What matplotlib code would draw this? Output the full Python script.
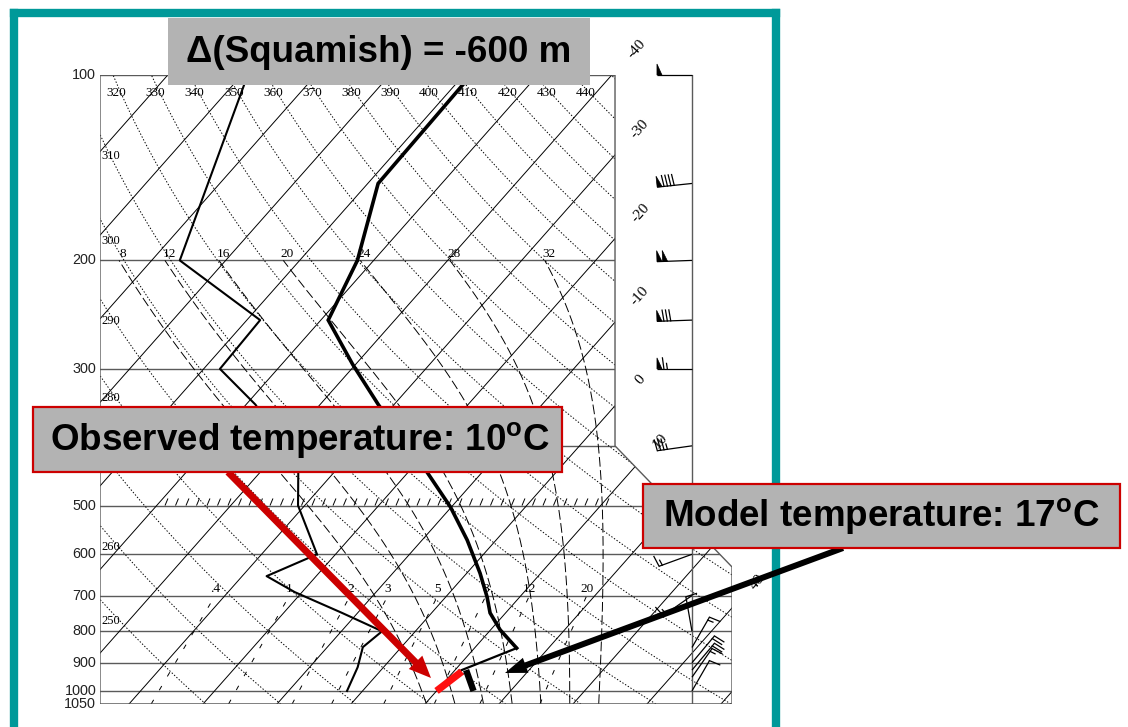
import numpy as np
import matplotlib
matplotlib.use("Agg")
import matplotlib.pyplot as plt
from matplotlib.patches import Polygon, Rectangle, FancyArrow
from matplotlib.path import Path
from matplotlib.collections import LineCollection
from matplotlib.transforms import IdentityTransform

plt.rcParams["lines.scale_dashes"] = False
plt.rcParams["mathtext.fontset"] = "custom"
plt.rcParams["mathtext.rm"] = "Liberation Sans:bold"
plt.rcParams["mathtext.bf"] = "Liberation Sans:bold"

# ---------------- sounding data ----------------
temp_p = [100, 150, 200, 250, 295, 343, 441, 503, 569, 644, 704, 747, 796, 852]
temp_c = [-59.0, -58.6, -52.2, -49.0, -40.4, -32.1, -17.5, -10.1, -3.9, 1.8, 5.6, 7.9, 11.3, 15.7]
low_p = [852, 925]
low_c = [15.7, 10.9]
dwpt_p = [100, 200, 250, 300, 343, 438, 500, 600, 651, 691, 747, 800, 849, 915, 1000]
dwpt_c = [-89.2, -76.2, -58.2, -57.8, -48.7, -35.1, -30.9, -22.5, -26.7, -21.0, -12.1, -4.5, -5.2, -3.5, -2.1]
obs_p = [1000, 930]
obs_c = [10.0, 11.1]
model_p = [925, 1000]
model_c = [11.5, 15.0]

wind_p = [100, 150, 200, 250, 300, 400, 500, 600, 700, 800, 850, 900, 925, 950, 1000]
wind_dir = [270, 264, 268, 268, 270, 262, 255, 250, 235, 350, 30, 40, 40, 35, 30]
wind_kt = [50, 90, 100, 80, 65, 35, 30, 15, 15, 10, 15, 20, 20, 15, 10]

# ---------------- diagram furniture ----------------
p_levels = [100, 200, 300, 400, 500, 600, 700, 800, 900, 1000, 1050]
p_labelled = [100, 200, 300, 500, 600, 700, 800, 900, 1000, 1050]
iso_temps = list(range(-110, 60, 10))
iso_labelled = [-40, -30, -20, -10, 0, 10, 40]
theta_dry = list(range(250, 460, 10))
theta_left_lab = [250, 260, 280, 290, 300, 310]
theta_top_lab = list(range(320, 450, 10))
theta_w = [8, 12, 16, 20, 24, 28, 32]
mix_g = [0.4, 1, 2, 3, 5, 8, 12, 20]
mix_lab = [".4", "1", "2", "3", "5", "8", "12", "20"]

title_txt = "\u0394(Squamish) = -600 m"
obs_txt = r"Observed temperature: 10$^{\rm o}$C"
mod_txt = r"Model temperature: 17$^{\rm o}$C"

W, H, DPI = 1128, 727, 100
P_BOT, P_TOP = 1050.0, 100.0
SKEW = 32.0
X_LEFT, X_RIGHT = -33.92, 51.49
X_BOX = 35.68          # right edge of the upper part
X_STAFF = 46.08        # wind-barb column
GRAY = "#5a5a5a"
TEAL = "#009999"
BOXGRAY = "#b3b3b3"
SERIF = "Liberation Serif"
SANS = "Liberation Sans"


def skx(T, p):
    return np.asarray(T, float) + SKEW * np.log(P_BOT / np.asarray(p, float))


fig = plt.figure(figsize=(W / DPI, H / DPI), dpi=DPI)
fig.patch.set_facecolor("white")
ax = fig.add_axes([100 / W, (H - 704) / H, 632 / W, 629 / H])
ax.set_yscale("log")
ax.set_ylim(P_BOT, P_TOP)
ax.set_xlim(X_LEFT, X_RIGHT)
ax.axis("off")

outline = [(X_LEFT, 100), (X_BOX, 100), (X_BOX, 400), (X_RIGHT, 629),
           (X_RIGHT, 1050), (X_LEFT, 1050)]
clip = Polygon(outline, closed=True, transform=ax.transData, facecolor="none",
               edgecolor=GRAY, lw=1.0, zorder=3)
ax.add_patch(clip)
inside = Path([(x, np.log(p)) for x, p in outline + outline[:1]])


def clipped(artist):
    artist.set_clip_path(clip)
    return artist


pp = np.geomspace(1050, 100, 300)

# isobars
for p in p_levels:
    clipped(ax.plot([X_LEFT, X_RIGHT], [p, p], color=GRAY, lw=1.0, zorder=2)[0])
for p in p_labelled:
    ax.text(-0.006, p, str(p), transform=ax.get_yaxis_transform(), ha="right",
            va="center", fontsize=10.4, family=SANS, color="#222222")

# isotherms
for T in iso_temps:
    clipped(ax.plot(skx(T, pp), pp, color="k", lw=0.7, zorder=2)[0])
    if T in iso_labelled:
        ps = np.geomspace(1050, 60, 2000)
        xs = skx(T, ps)
        ok = inside.contains_points(np.column_stack([xs, np.log(ps)]))
        if ok.any():
            pe = ps[np.where(ok)[0].max()]
            pl = pe * np.exp(-26 / 267.5)
            ax.text(skx(T, pl) + 0.3, pl, str(T), rotation=48, ha="center", va="center",
                    fontsize=11, family=SERIF, clip_on=False, zorder=4)

# dry adiabats
for th in theta_dry:
    tt = th * (pp / 1000.0) ** 0.2857 - 273.15
    clipped(ax.plot(skx(tt, pp), pp, color="k", lw=0.7, ls=(0, (1.0, 1.3)), zorder=2)[0])
    if th in theta_left_lab:
        ps = np.geomspace(1050, 100, 3000)
        xl = skx(th * (ps / 1000.0) ** 0.2857 - 273.15, ps)
        i = np.argmin(np.abs(xl - X_LEFT))
        ax.text(X_LEFT + 0.25, ps[i] * 1.085, str(th), ha="left", va="center",
                fontsize=9, family=SERIF, zorder=4)
    elif th in theta_top_lab:
        pl = 107.0
        xl = skx(th * (pl / 1000.0) ** 0.2857 - 273.15, pl)
        ax.text(xl - 0.6, pl, str(th), ha="center", va="center",
                fontsize=9.5, family=SERIF, zorder=4)


# moist adiabats (pseudo-adiabatic, integrated from 1000 hPa)
def moist_profile(tw_c, p_end, step):
    Rd, cp, Lv, eps = 287.04, 1005.7, 2.47e6, 0.622

    def es(Tk):
        return 6.112 * np.exp(17.67 * (Tk - 273.15) / (Tk - 29.65))

    def f(Tk, p):
        rs = eps * es(Tk) / (p - es(Tk))
        return (Rd * Tk + Lv * rs) / (cp + Lv * Lv * rs * eps / (Rd * Tk * Tk)) / p

    ps, ts = [1000.0], [tw_c + 273.15]
    p, T = 1000.0, tw_c + 273.15
    n = int(round(abs(p_end - 1000.0) / abs(step)))
    for _ in range(n):
        k1 = f(T, p)
        k2 = f(T + 0.5 * step * k1, p + 0.5 * step)
        k3 = f(T + 0.5 * step * k2, p + 0.5 * step)
        k4 = f(T + step * k3, p + step)
        T += step * (k1 + 2 * k2 + 2 * k3 + k4) / 6
        p += step
        ps.append(p)
        ts.append(T)
    return np.array(ps), np.array(ts) - 273.15


for tw in theta_w:
    pu, tu = moist_profile(tw, 200.0, -2.0)
    pd, td = moist_profile(tw, 1050.0, 2.0)
    ps = np.concatenate([pd[::-1], pu[1:]])
    ts = np.concatenate([td[::-1], tu[1:]])
    clipped(ax.plot(skx(ts, ps), ps, color="k", lw=0.7, ls=(0, (7, 2.5)), zorder=2)[0])
    ax.text(skx(tu[-1], 200.0) + 0.55, 195.5, str(tw), ha="center", va="center",
            fontsize=9.5, family=SERIF, zorder=4)

# saturation mixing-ratio lines
pm = np.geomspace(1050, 700, 60)
for w, lab in zip(mix_g, mix_lab):
    e = pm * w / (622.0 + w)
    le = np.log(e / 6.112)
    td = 243.5 * le / (17.67 - le)
    clipped(ax.plot(skx(td, pm), pm, color="k", lw=0.7, ls=(0, (3.5, 8)), zorder=2)[0])
    ax.text(skx(td[-1], 700.0), 682.0, lab, ha="center", va="center",
            fontsize=9.5, family=SERIF, zorder=4)

# tick marks resting on the 500 hPa isobar
hx = np.arange((165 - 351) / 7.4, (614 - 351) / 7.4, 10.5 / 7.4)
segs = [[(x, 500.0), (x + 0.4, 487.0)] for x in hx]
ax.add_collection(clipped(LineCollection(segs, colors="k", linewidths=0.7, zorder=2)))

# sounding
ax.plot(skx(temp_c, temp_p), temp_p, color="k", lw=2.6, zorder=5, solid_joinstyle="miter")
ax.plot(skx(low_c, low_p), low_p, color="k", lw=1.6, zorder=5)
ax.plot(skx(dwpt_c, dwpt_p), dwpt_p, color="k", lw=1.5, zorder=5)
ax.plot(skx(obs_c, obs_p), obs_p, color="#ff1010", lw=5.2, zorder=6, solid_capstyle="butt")
ax.plot(skx(model_c, model_p), model_p, color="k", lw=4.6, zorder=6, solid_capstyle="butt")

# wind column
ax.plot([X_STAFF, X_STAFF], [100, 1050], color=GRAY, lw=1.0, zorder=3)

# wind barbs, drawn in a pixel-space overlay so their shape is not distorted
ov = fig.add_axes([0, 0, 1, 1])
ov.set_xlim(0, W)
ov.set_ylim(0, H)
ov.axis("off")
ov.set_zorder(1)
STAFF, BARB_H, PEN_W, GAP = 35.0, 11.0, 5.0, 3.4


def draw_barb(sx, sy, ddeg, kt):
    d = np.radians(ddeg)
    s = np.array([np.sin(d), np.cos(d)])        # toward where the wind comes from
    n = np.array([s[1], -s[0]])                  # side the feathers sit on
    base = np.array([sx, sy])
    tail = base + s * STAFF
    ov.plot([base[0], tail[0]], [base[1], tail[1]], color="k", lw=0.9,
            solid_capstyle="butt")
    kt = int(5 * round(kt / 5.0))
    n50, rem = divmod(kt, 50)
    n10, rem = divmod(rem, 10)
    n5 = rem // 5
    pos = 0.0
    for _ in range(n50):
        a = tail - s * pos
        tri = np.array([a, a + n * BARB_H, a - s * PEN_W])
        ov.fill(tri[:, 0], tri[:, 1], color="k", lw=0.5)
        pos += PEN_W + 0.6
    if n50 and (n10 or n5):
        pos += GAP * 0.4
    for _ in range(n10):
        a = tail - s * pos
        b = a + n * BARB_H + s * 1.5
        ov.plot([a[0], b[0]], [a[1], b[1]], color="k", lw=0.9)
        pos += GAP
    for _ in range(n5):
        a = tail - s * pos
        b = a + n * BARB_H * 0.5 + s * 0.8
        ov.plot([a[0], b[0]], [a[1], b[1]], color="k", lw=0.9)
        pos += GAP


for p, dd, sp in zip(wind_p, wind_dir, wind_kt):
    sx, sy = ax.transData.transform((X_STAFF, p))
    draw_barb(sx, sy, dd, sp)


# ---------------- frame, call-out boxes and arrows ----------------
def px(x, y):
    return x / W, 1 - y / H


for xs, ys in [((14, 14), (13, 740)), ((14, 776), (13, 13)), ((776, 776), (13, 740))]:
    fig.add_artist(plt.Line2D([x / W for x in xs], [1 - y / H for y in ys],
                              color=TEAL, lw=6.0, zorder=6, solid_capstyle="projecting"))


def callout(x0, y0, x1, y1, txt, tx, edge):
    r = Rectangle(px(x0, y1), (x1 - x0) / W, (y1 - y0) / H, transform=fig.transFigure,
                  facecolor=BOXGRAY, edgecolor=edge if edge else BOXGRAY,
                  lw=1.6 if edge else 0, zorder=10)
    fig.add_artist(r)
    fig.text(*px(tx, (y0 + y1) / 2 + 1), txt, ha="left", va="center", fontsize=26.5,
             family=SANS, weight="bold", color="k", zorder=11)


callout(168, 18, 590, 85, title_txt, 186, None)
callout(33, 407, 562, 472, obs_txt, 50, "#cc0000")
callout(643, 484, 1120, 548, mod_txt, 663, "#cc0000")


def arrow(x0, y0, x1, y1, color, w, hw, hl):
    fig.add_artist(FancyArrow(x0, H - y0, x1 - x0, -(y1 - y0), width=w, head_width=hw,
                              head_length=hl, length_includes_head=True, color=color,
                              transform=IdentityTransform(), zorder=9, lw=0))


arrow(228, 472, 431, 678, "#cc0000", 7, 19, 22)
arrow(843, 548, 505, 673, "k", 6, 16, 22)

fig.savefig("out.png", dpi=DPI, facecolor="white")
